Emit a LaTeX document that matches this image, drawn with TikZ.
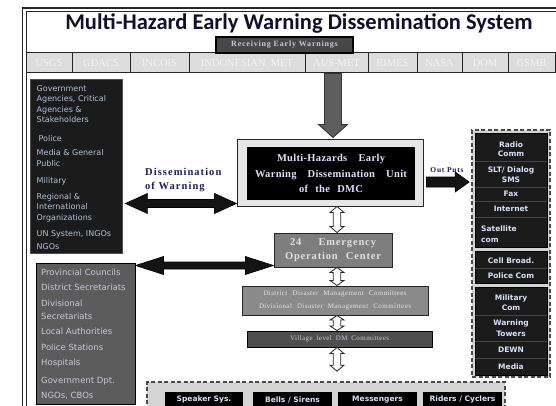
\documentclass[tikz,border=0pt]{standalone}
\usepackage{fontspec}
\setmainfont{Liberation Serif}
\newfontfamily\djs{DejaVu Sans}
\newfontfamily\calfont{Carlito}
\usetikzlibrary{calc}
\definecolor{cellgray}{HTML}{DCDCDC}
\definecolor{celltxt}{HTML}{F3F3F3}
\definecolor{boxblack}{HTML}{1B1B1B}
\definecolor{lbtxt}{HTML}{AFC2DC}
\definecolor{rtxt}{HTML}{D6E2FA}
\definecolor{greybox}{HTML}{5C5C5C}
\definecolor{gtxt}{HTML}{C8C8DC}
\definecolor{eocgray}{HTML}{7E7E7E}
\definecolor{distgray}{HTML}{8A8A8A}
\definecolor{villgray}{HTML}{4E4E4E}
\definecolor{arrgray}{HTML}{5E5E5E}
\definecolor{recvgray}{HTML}{474747}
\definecolor{dashfill}{HTML}{D4D4D4}
\definecolor{dashline}{HTML}{4A4A4A}
\definecolor{navy}{HTML}{1C1F5A}
\definecolor{dmcfill}{HTML}{E6E6E6}
\definecolor{titlecol}{HTML}{10102A}
% block arrows: start, tip, shaft half width, head half width, head length, style
\newcommand\arrDown[6]{\draw[#6] ($(#1)+(-#3,0)$) -- ($(#2)+(-#3,-#5)$) -- ($(#2)+(-#4,-#5)$) -- (#2) -- ($(#2)+(#4,-#5)$) -- ($(#2)+(#3,-#5)$) -- ($(#1)+(#3,0)$) -- cycle;}
\newcommand\arrRight[6]{\draw[#6] ($(#1)+(0,-#3)$) -- ($(#2)+(-#5,-#3)$) -- ($(#2)+(-#5,-#4)$) -- (#2) -- ($(#2)+(-#5,#4)$) -- ($(#2)+(-#5,#3)$) -- ($(#1)+(0,#3)$) -- cycle;}
\newcommand\arrVV[6]{\draw[#6] (#1) -- ($(#1)+(#4,#5)$) -- ($(#1)+(#3,#5)$) -- ($(#2)+(#3,-#5)$) -- ($(#2)+(#4,-#5)$) -- (#2) -- ($(#2)+(-#4,-#5)$) -- ($(#2)+(-#3,-#5)$) -- ($(#1)+(-#3,#5)$) -- ($(#1)+(-#4,#5)$) -- cycle;}
\newcommand\arrHH[6]{\draw[#6] (#1) -- ($(#1)+(#5,-#4)$) -- ($(#1)+(#5,-#3)$) -- ($(#2)+(-#5,-#3)$) -- ($(#2)+(-#5,-#4)$) -- (#2) -- ($(#2)+(-#5,#4)$) -- ($(#2)+(-#5,#3)$) -- ($(#1)+(#5,#3)$) -- ($(#1)+(#5,#4)$) -- cycle;}
\begin{document}
\begin{tikzpicture}[x=1pt,y=-1pt,
  cell/.style={draw=black!85, line width=1pt, fill=cellgray, minimum height=20, inner sep=0pt, text=celltxt, font=\fontsize{10.5}{12}\selectfont},
  hollow/.style={draw=black!85, fill=white, line width=0.8pt},
  solidblk/.style={draw=black, fill=black!92, line width=0.6pt},
  greyarrow/.style={draw=black!80, fill=arrgray, line width=0.8pt},
  grp/.style={fill=boxblack, draw=black, line width=0.6pt, minimum width=72, inner sep=0pt},
  rt/.style={text=rtxt, font=\djs\bfseries\fontsize{7.5}{10.5}\selectfont, align=center, inner sep=0pt},
  sepline/.style={draw=gray!55!black, line width=0.6pt},
  dashbox/.style={draw=dashline, fill=dashfill, line width=1.6pt, dash pattern=on 4pt off 2.5pt, inner sep=0pt},
  botc/.style={fill=black, minimum width=79, minimum height=15, inner sep=0pt, text=rtxt, font=\djs\bfseries\fontsize{7.5}{9}\selectfont},
  midbox/.style={draw=black!85, line width=1pt, inner sep=0pt},
  frameline/.style={draw=black!85, line width=1.3pt}
]
\useasboundingbox (0,0) rectangle (556,406);
\fill[white] (0,0) rectangle (556,406);
% outer frame (double line, running off the right and bottom edges)
\coordinate (fo) at (22.5,8);
\coordinate (fi) at (26.5,11.5);
\draw[frameline] (22.5,420) -- (fo) -- (570,8);
\draw[draw=black!85, line width=0.6pt] (26.5,420) -- (fi) -- (570,11.5);

% title
\node[text=titlecol, font=\calfont\bfseries\fontsize{22.5}{26}\selectfont, inner sep=0pt] (title) at (299,23) {Multi-Hazard Early Warning Dissemination System};

% source strip
\node[cell, minimum width=46] (usgs) at (49,63) {USGS};
\node[cell, minimum width=58] (gdacs) at (101,63) {GDACS};
\node[cell, minimum width=59] (incois) at (159.5,63) {INCOIS};
\node[cell, minimum width=116] (indo) at (247,63) {INDONESIAN\enspace MET};
\node[cell, minimum width=63] (aus) at (336.5,63) {AUS-MET};
\node[cell, minimum width=49] (rimes) at (392.5,63) {RIMES};
\node[cell, minimum width=45] (nasa) at (439.5,63) {NASA};
\node[cell, minimum width=46] (dom) at (485,63) {DOM};
\node[cell, minimum width=47] (gsmb) at (531.5,63) {GSMB};

% receiving
\node[draw=black, line width=1.2pt, fill=recvgray, minimum width=137, minimum height=16, inner sep=0pt, text=gtxt, font=\bfseries\fontsize{8}{9}\selectfont\addfontfeature{LetterSpace=10}] (recv) at (284.5,45) {Receiving Early Warnings};

% DMC
\node[midbox, fill=dmcfill, minimum width=186, minimum height=66] (dmc) at (330,173) {};
\node[fill=black, minimum width=168, minimum height=53, inner sep=0pt, text=white!88!blue, align=center,
  font=\bfseries\fontsize{10.5}{15.5}\selectfont\addfontfeature{LetterSpace=3}] (dmcin) at (331,173.5)
  {\makebox[108pt][s]{Multi-Hazards Early}\\\makebox[152pt][s]{Warning Dissemination Unit}\\\makebox[64pt][s]{of the DMC}};

% EOC
\node[midbox, fill=eocgray, minimum width=118, minimum height=34, text=black!12, align=center,
  font=\bfseries\fontsize{10.5}{14}\selectfont\addfontfeature{LetterSpace=8}] (eoc) at (333,250)
  {\makebox[86pt][s]{24 Emergency}\\\makebox[96pt][s]{Operation Center}};

% district
\node[midbox, fill=distgray, minimum width=186, minimum height=29, text=black!10, align=center,
  font=\fontsize{7}{13}\selectfont\addfontfeature{LetterSpace=6}] (dist) at (335,300.5)
  {\makebox[143pt][s]{District Disaster Management Committees}\\\makebox[152pt][s]{Divisional Disaster Management Committees}};

% village
\node[midbox, fill=villgray, draw=black, minimum width=185, minimum height=16, text=gtxt,
  font=\fontsize{7}{8}\selectfont\addfontfeature{LetterSpace=6}] (vill) at (339.5,339) {\makebox[99pt][s]{Village level DM Committees}};

% bottom dashed box
\node[dashbox, minimum width=358, minimum height=33] (botbox) at (326,398.5) {};
\node[botc, minimum width=78] (spk) at (204,399.5) {Speaker Sys.};
\node[botc] (bells) at (292.5,399.5) {Bells / Sirens};
\node[botc] (mess) at (377.5,399.5) {Messengers};
\node[botc] (ride) at (462.5,399.5) {Riders / Cyclers};

% left stakeholder box
\node[fill=boxblack, draw=black!70, line width=0.8pt, minimum width=92, minimum height=174, inner sep=0pt] (stake) at (76,166) {};
\node[anchor=north west, inner sep=0pt, text=lbtxt, align=left, font=\djs\fontsize{8}{10.5}\selectfont] (staketxt) at (36.5,85)
 {Government\\Agencies, Critical\\Agencies \&\\Stakeholders\\[8.5pt]
  \hspace*{2pt}Police\\[3.5pt]
  Media \& General\\Public\\[6.5pt]
  Military\\[5.5pt]
  Regional \&\\International\\Organizations\\[5.5pt]
  UN System, INGOs\\[2.5pt]NGOs};

% left grey box
\node[fill=greybox, draw=black, line width=1pt, minimum width=99, minimum height=141, inner sep=0pt] (grey) at (85.5,333.5) {};
\node[anchor=north west, inner sep=0pt, text=gtxt, align=left, font=\djs\fontsize{8.5}{15.5}\selectfont] (greytxt) at (41,268.5)
 {Provincial Councils\\District Secretariats\\Divisional\\[-2.5pt]Secretariats\\Local Authorities\\Police Stations\\Hospitals\\[2pt]Government Dpt.\\NGOs, CBOs};

% right dashed box
\node[dashbox, minimum width=78, minimum height=247] (rbox) at (511,253.5) {};
\node[grp, minimum height=114] (g1) at (511,190) {};
\node[grp, minimum height=32] (g2) at (511,267) {};
\node[grp, minimum height=88] (g3) at (511,331) {};
\foreach \yy in {161,187,201,217} {\draw[sepline] (g1.west |- 0,\yy) -- (g1.east |- 0,\yy);}
\draw[sepline] (g2.west |- 0,268.5) -- (g2.east |- 0,268.5);
\foreach \yy in {315,341,358} {\draw[sepline] (g3.west |- 0,\yy) -- (g3.east |- 0,\yy);}
\node[rt] (r1) at (511,149) {Radio\\[-1.5pt]Comm};
\node[rt] (r2) at (511,174.5) {SLT/ Dialog\\SMS};
\node[rt] (r3) at (511,194) {Fax};
\node[rt] (r4) at (511,208.5) {Internet};
\node[rt, anchor=west, align=left] (r5) at (481,234) {Satellite\\[1pt]com};
\node[rt] (r6) at (511,260.5) {Cell Broad.};
\node[rt] (r7) at (511,276) {Police Com};
\node[rt] (r8) at (511,302.5) {Military\\Com};
\node[rt] (r9) at (511,328) {Warning\\Towers};
\node[rt] (r10) at (511,349.5) {DEWN};
\node[rt] (r11) at (511,367) {Media};

% labels
\node[anchor=north west, inner sep=0pt, text=navy, align=left, font=\bfseries\fontsize{10.5}{14}\selectfont\addfontfeature{LetterSpace=10}] (dissem) at (145,168) {Dissemination\\of Warning};
\node[inner sep=0pt, text=navy, font=\bfseries\fontsize{7.5}{9}\selectfont\addfontfeature{LetterSpace=10}] (outp) at (447,170) {Out Puts};

% connectors
\coordinate (axis) at (337,0);
\coordinate (da) at (dmc.north |- aus.south);
\coordinate (db) at ($(dmc.north)+(0,-2)$);
\coordinate (dA) at ($(da)+(3,0)$);
\coordinate (dB) at ($(db)+(3,0)$);
\arrDown{dA}{dB}{8.5}{14.5}{13}{greyarrow}

\coordinate (h1a) at (axis |- dmc.south);
\coordinate (h1b) at (axis |- eoc.north);
\arrVV{h1a}{h1b}{3.8}{7}{6}{hollow}
\coordinate (h2a) at (axis |- eoc.south);
\coordinate (h2b) at (axis |- dist.north);
\arrVV{h2a}{h2b}{3.8}{7}{5}{hollow}
\coordinate (h3a) at (axis |- dist.south);
\coordinate (h3b) at (axis |- vill.north);
\arrVV{h3a}{h3b}{3.8}{7}{4.5}{hollow}
\coordinate (h4a) at (axis |- vill.south);
\coordinate (h4n) at (axis |- botbox.north);
\coordinate (h4b) at ($(h4n)+(0,-10)$);
\arrVV{h4a}{h4b}{3.8}{7}{6}{hollow}

\coordinate (la) at ($(dmc.south west)+(0,-3)$);
\coordinate (lb) at ($(stake.east |- la)+(3,0)$);
\arrHH{lb}{la}{4}{10}{22}{solidblk}

\coordinate (ma) at ($(eoc.south west)+(0,-2)$);
\coordinate (mb) at (grey.east |- ma);
\arrHH{mb}{ma}{3.5}{9}{28}{solidblk}

\coordinate (os) at ($(dmc.east)+(3,9)$);
\coordinate (ot0) at (os -| rbox.west);
\coordinate (ot) at ($(ot0)+(-2,0)$);
\arrRight{os}{ot}{5}{10}{14}{solidblk}
\end{tikzpicture}
\end{document}
